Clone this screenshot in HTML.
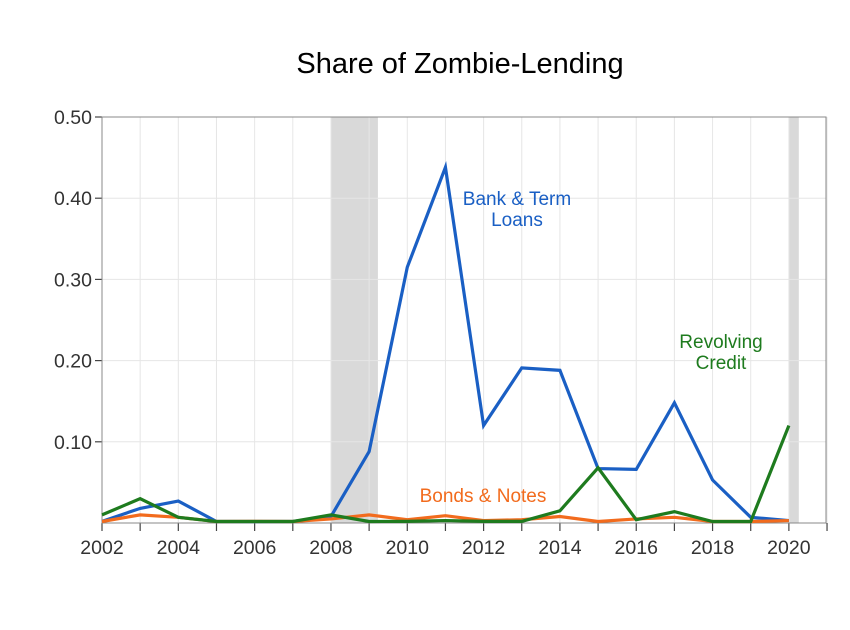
<!DOCTYPE html>
<html><head><meta charset="utf-8"><style>body{margin:0;background:#fff}svg{display:block;font-family:"Liberation Sans",sans-serif}</style></head>
<body>
<svg width="850" height="630" viewBox="0 0 850 630" xmlns="http://www.w3.org/2000/svg">
<rect width="850" height="630" fill="#fff"/>
<text x="460" y="73" font-size="29" text-anchor="middle" fill="#000">Share of Zombie-Lending</text>
<g id="plot"></g>
</svg>
<script>
const X=y=>102+(y-2002)*38.16, Y=v=>523-v*812;
const g=document.getElementById('plot');let s='';
s+=`<rect x="${X(2008)}" y="117" width="${X(2009.23)-X(2008)}" height="406" fill="#d9d9d9"/>`;
s+=`<rect x="${X(2020)}" y="117" width="${X(2020.26)-X(2020)}" height="406" fill="#d9d9d9"/>`;
for(let y=2002;y<=2021;y++){s+=`<line x1="${X(y)}" x2="${X(y)}" y1="117" y2="523" stroke="#e6e6e6" stroke-width="1"/>`;s+=`<line x1="${X(y)}" x2="${X(y)}" y1="523" y2="531" stroke="#444" stroke-width="1.2"/>`;}
for(let i=1;i<=5;i++){const v=i/10;s+=`<line x1="102" x2="826" y1="${Y(v)}" y2="${Y(v)}" stroke="#e6e6e6"/>`;s+=`<line x1="95" x2="102" y1="${Y(v)}" y2="${Y(v)}" stroke="#444" stroke-width="1.2"/>`;s+=`<text x="92" y="${Y(v)+7}" font-size="19.5" text-anchor="end" fill="#333">${v.toFixed(2)}</text>`;}
for(let y=2002;y<=2020;y+=2)s+=`<text x="${X(y)}" y="554" font-size="19.5" text-anchor="middle" fill="#333">${y}</text>`;
s+=`<rect x="102" y="117" width="724" height="406" fill="none" stroke="#888" stroke-width="1"/>`;
const ser=[["#f26b1d",[0,.01,.007,.001,.002,.001,.005,.01,.004,.009,.003,.004,.008,0,.005,.007,0,.001,.003]],
["#1e7b1e",[.01,.03,.007,0,0,0,.01,0,.002,.003,.002,.002,.015,.068,.004,.014,0,0,.12]],
["#1a5fc4",[.002,.018,.027,0,0,0,.008,.088,.315,.438,.12,.191,.188,.067,.066,.148,.053,.007,.003]]];
for(const [c,d] of [ser[2],ser[0],ser[1]]){s+=`<polyline fill="none" stroke="${c}" stroke-width="3.2" stroke-linejoin="miter" points="${d.map((v,i)=>X(2002+i)+','+Math.min(Y(v),521.5)).join(' ')}"/>`;}
s+=`<text x="517" y="205" font-size="19" text-anchor="middle" fill="#1a5fc4">Bank &amp; Term</text><text x="517" y="226" font-size="19" text-anchor="middle" fill="#1a5fc4">Loans</text>`;
s+=`<text x="721" y="348" font-size="19" text-anchor="middle" fill="#1e7b1e">Revolving</text><text x="721" y="369" font-size="19" text-anchor="middle" fill="#1e7b1e">Credit</text>`;
s+=`<text x="483" y="502" font-size="19" text-anchor="middle" fill="#f26b1d">Bonds &amp; Notes</text>`;
g.innerHTML=s;
</script>
</body></html>
